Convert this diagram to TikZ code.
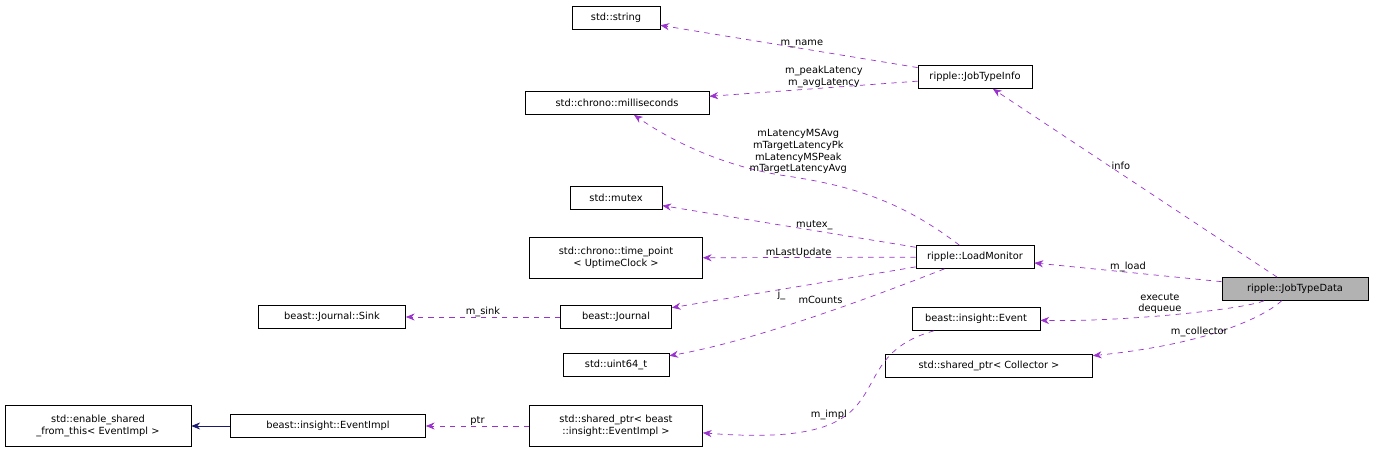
\documentclass[tikz,border=0pt]{standalone}
\usepackage{fontspec}
\setmainfont{DejaVu Sans}
\usetikzlibrary{arrows.meta}
\definecolor{usecol}{HTML}{9A32CD}
\definecolor{inhcol}{HTML}{191970}
\tikzset{
% class boxes and the two kinds of links
cls/.style={draw,rectangle,inner sep=1pt,minimum height=0.46cm,align=center,font=\fontsize{5.6}{6.6}\selectfont},
sel/.style={cls,fill=black!30},
use/.style={draw=usecol,dashed,-{Stealth[length=5pt,width=4pt]},color=usecol},
inh/.style={draw=inhcol,-{Stealth[length=5pt,width=4pt]},color=inhcol},
lbl/.style={align=center,text=black,font=\fontsize{5.6}{6.6}\selectfont,inner sep=0pt}
}
\begin{document}
\begin{tikzpicture}[x=0.02cm,y=-0.02cm]
  \useasboundingbox (0,0) rectangle (1376,453);
  % classes
  \node(str)[cls,minimum width=1.76cm] at (616,18) {std::string};
  \node(info)[cls,minimum width=2.28cm] at (975,77) {ripple::JobTypeInfo};
  \node(ms)[cls,minimum width=3.68cm] at (617,103) {std::chrono::milliseconds};
  \node(mtx)[cls,minimum width=1.84cm] at (616,198) {std::mutex};
  \node(tp)[cls,minimum width=3.46cm,minimum height=0.82cm] at (616,258) {std::chrono::time\_point\\< UptimeClock >};
  \node(lm)[cls,minimum width=2.36cm] at (975,257) {ripple::LoadMonitor};
  \node(jtd)[sel,minimum width=2.92cm] at (1295,289) {ripple::JobTypeData};
  \node(sink)[cls,minimum width=2.94cm] at (332,317) {beast::Journal::Sink};
  \node(jnl)[cls,minimum width=2.22cm] at (616,317) {beast::Journal};
  \node(ev)[cls,minimum width=2.56cm] at (976,319) {beast::insight::Event};
  \node(u64)[cls,minimum width=2.12cm] at (616,365) {std::uint64\_t};
  \node(coll)[cls,minimum width=4.14cm] at (989,366) {std::shared\_ptr< Collector >};
  \node(esft)[cls,minimum width=3.72cm,minimum height=0.82cm] at (98,426) {std::enable\_shared\\\_from\_this< EventImpl >};
  \node(eimpl)[cls,minimum width=3.9cm] at (328,426) {beast::insight::EventImpl};
  \node(sptr)[cls,minimum width=3.46cm,minimum height=0.82cm] at (616,426) {std::shared\_ptr< beast\\::insight::EventImpl >};
  % links
  \draw[use] (info) -- node[lbl,above,pos=0.45]{m\_name} (str);
  \draw[use] (info) -- node[lbl,above,pos=0.45]{m\_peakLatency\\m\_avgLatency} (ms);
  \draw[use] (lm) .. controls (900,200) and (850,185) .. (780,175) .. controls (720,165) and (670,140) .. node[lbl,pos=-0.1,above=2pt]{mLatencyMSAvg\\mTargetLatencyPk\\mLatencyMSPeak\\mTargetLatencyAvg} (ms);
  \draw[use] (lm) -- node[lbl,above,pos=0.4]{mutex\_} (mtx);
  \draw[use] (lm) -- node[lbl,above,pos=0.55]{mLastUpdate} (tp);
  \draw[use] (lm) -- node[lbl,below,pos=0.55]{j\_} (jnl);
  \draw[use] (lm) .. controls (890,290) and (760,340) .. node[lbl,pos=0.5,above=6pt]{mCounts} (u64);
  \draw[use] (jnl) -- node[lbl,above]{m\_sink} (sink);
  \draw[use] (jtd) -- node[lbl,pos=0.55,above=2pt]{info} (info);
  \draw[use] (jtd) -- node[lbl,above]{m\_load} (lm);
  \draw[use] (jtd) .. controls (1240,310) and (1120,322) .. node[lbl,above=1pt,pos=0.55]{execute\\dequeue} (ev);
  \draw[use] (jtd) .. controls (1260,320) and (1200,345) .. node[lbl,above,pos=0.6]{m\_collector} (coll);
  \draw[use] (ev) .. controls (830,360) and (920,450) .. node[lbl,pos=0.7,above=2pt]{m\_impl} (sptr);
  \draw[use] (sptr) -- node[lbl,above]{ptr} (eimpl);
  \draw[inh] (eimpl) -- (esft);
\end{tikzpicture}
\end{document}
